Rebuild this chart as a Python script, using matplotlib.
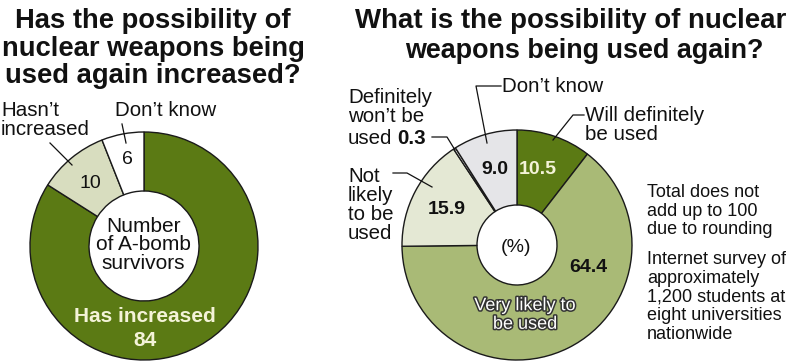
import matplotlib.pyplot as plt
import matplotlib.patheffects as pe

plt.rcParams["font.family"] = ["Liberation Sans", "DejaVu Sans"]

# left chart: A-bomb survivors
left_labels = ["Has increased", "Hasn't increased", "Don't know"]
left_values = [84, 10, 6]
left_colors = ["#5b7a14", "#d8ddbf", "#ffffff"]

# right chart: students
right_labels = ["Will definitely be used", "Very likely to be used", "Not likely to be used",
                "Definitely won't be used", "Don't know"]
right_values = [10.5, 64.4, 15.9, 0.3, 9.0]
right_colors = ["#5b7a14", "#a9ba76", "#e4e8d4", "#ffffff", "#e5e5e8"]

H = 361


def Y(y):
    # convert pixel row (from top) to axis coordinate
    return H - y


fig = plt.figure(figsize=(8, 3.61), dpi=100)
ax = fig.add_axes([0, 0, 1, 1])

edge = dict(edgecolor="#1a1a1a", linewidth=1.0)
ink = "#111"
lab = 14.8

# ---- left donut ----
lc, lr, lw = (144, Y(246)), 114, 59
ax.pie(left_values, colors=left_colors, startangle=90, counterclock=False,
       center=lc, radius=lr, wedgeprops=dict(width=lw, **edge), frame=True)

for i, line in enumerate(["Has the possibility of", "nuclear weapons being",
                          "used again increased?"]):
    ax.text(153, Y(28 + i * 27.5), line, ha="center", va="baseline",
            fontsize=19.7, fontweight="bold", color=ink)

ax.text(1, Y(120), "Hasn\u2019t\nincreased", ha="left", va="center", fontsize=lab,
        linespacing=0.95, color=ink)
ax.text(115, Y(110), "Don\u2019t know", ha="left", va="center", fontsize=lab, color=ink)
ax.plot([50, 72], [Y(143), Y(165)], color=ink, lw=0.9)
ax.plot([122, 126], [Y(124), Y(143)], color=ink, lw=0.9)

ax.text(90, Y(184), str(left_values[1]), ha="center", va="center", fontsize=14, color=ink)
ax.text(127, Y(160), str(left_values[2]), ha="center", va="center", fontsize=14, color=ink)
ax.text(143, Y(245), "Number\nof A-bomb\nsurvivors", ha="center", va="center",
        fontsize=15, linespacing=0.98, color=ink)
ax.text(145, Y(317), left_labels[0], ha="center", va="center", fontsize=15,
        fontweight="bold", color="#f4f3d8")
ax.text(145, Y(340), str(left_values[0]), ha="center", va="center", fontsize=15,
        fontweight="bold", color="#f4f3d8")

# ---- right donut ----
rc, rr, rw = (517, Y(245)), 115, 75
ax.pie(right_values, colors=right_colors, startangle=90, counterclock=False,
       center=rc, radius=rr, wedgeprops=dict(width=rw, **edge), frame=True)
ax.set_xlim(0, 800)
ax.set_ylim(0, H)
ax.set_aspect("equal")
ax.axis("off")

ax.text(571, Y(28), "What is the possibility of nuclear", ha="center", va="baseline",
        fontsize=19.9, fontweight="bold", color=ink)
ax.text(584, Y(58), "weapons being used again?", ha="center", va="baseline",
        fontsize=19.4, fontweight="bold", color=ink)

# labels and leader lines
ax.text(502, Y(87), "Don\u2019t know", ha="left", va="center", fontsize=lab, color=ink)
ax.plot([501, 476, 487], [Y(86), Y(86), Y(143)], color=ink, lw=0.9)

ax.text(585, Y(125), "Will definitely\nbe used", ha="left", va="center", fontsize=lab,
        linespacing=0.98, color=ink)
ax.plot([584, 573, 553], [Y(115), Y(115), Y(140)], color=ink, lw=0.9)

ax.text(348, Y(107), "Definitely\nwon\u2019t be", ha="left", va="center",
        fontsize=lab, linespacing=0.98, color=ink)
ax.text(348, Y(138), "used", ha="left", va="center", fontsize=lab, color=ink)
ax.text(397, Y(138), f"{right_values[3]}", ha="left", va="center", fontsize=lab,
        fontweight="bold", color=ink)
ax.plot([432, 447, 455], [Y(137), Y(137), Y(150)], color=ink, lw=0.9)

ax.text(348, Y(205), "Not\nlikely\nto be\nused", ha="left", va="center", fontsize=lab,
        linespacing=0.98, color=ink)
ax.plot([393, 407, 432], [Y(173), Y(173), Y(187)], color=ink, lw=0.9)

ax.text(495, Y(170), f"{right_values[4]:.1f}", ha="center", va="center", fontsize=14,
        fontweight="bold", color=ink)
ax.text(538, Y(170), f"{right_values[0]:.1f}", ha="center", va="center", fontsize=14,
        fontweight="bold", color="#f4f3d8")
ax.text(447, Y(209), f"{right_values[2]:.1f}", ha="center", va="center", fontsize=14,
        fontweight="bold", color=ink)
ax.text(588, Y(267), f"{right_values[1]:.1f}", ha="center", va="center", fontsize=14,
        fontweight="bold", color=ink)
ax.text(525, Y(315), "Very likely to\nbe used", ha="center", va="center", fontsize=13,
        linespacing=1.12, color="white",
        path_effects=[pe.withStroke(linewidth=2.2, foreground="#333")])
ax.text(516, Y(247), "(%)", ha="center", va="center", fontsize=14, color=ink)

ax.text(647, Y(211), "Total does not\nadd up to 100\ndue to rounding", ha="left",
        va="center", fontsize=13, linespacing=1.14, color=ink)
ax.text(647, Y(297), "Internet survey of\napproximately\n1,200 students at\n"
        "eight universities\nnationwide", ha="left", va="center", fontsize=13,
        linespacing=1.14, color=ink)

fig.savefig("out.png", dpi=100)
